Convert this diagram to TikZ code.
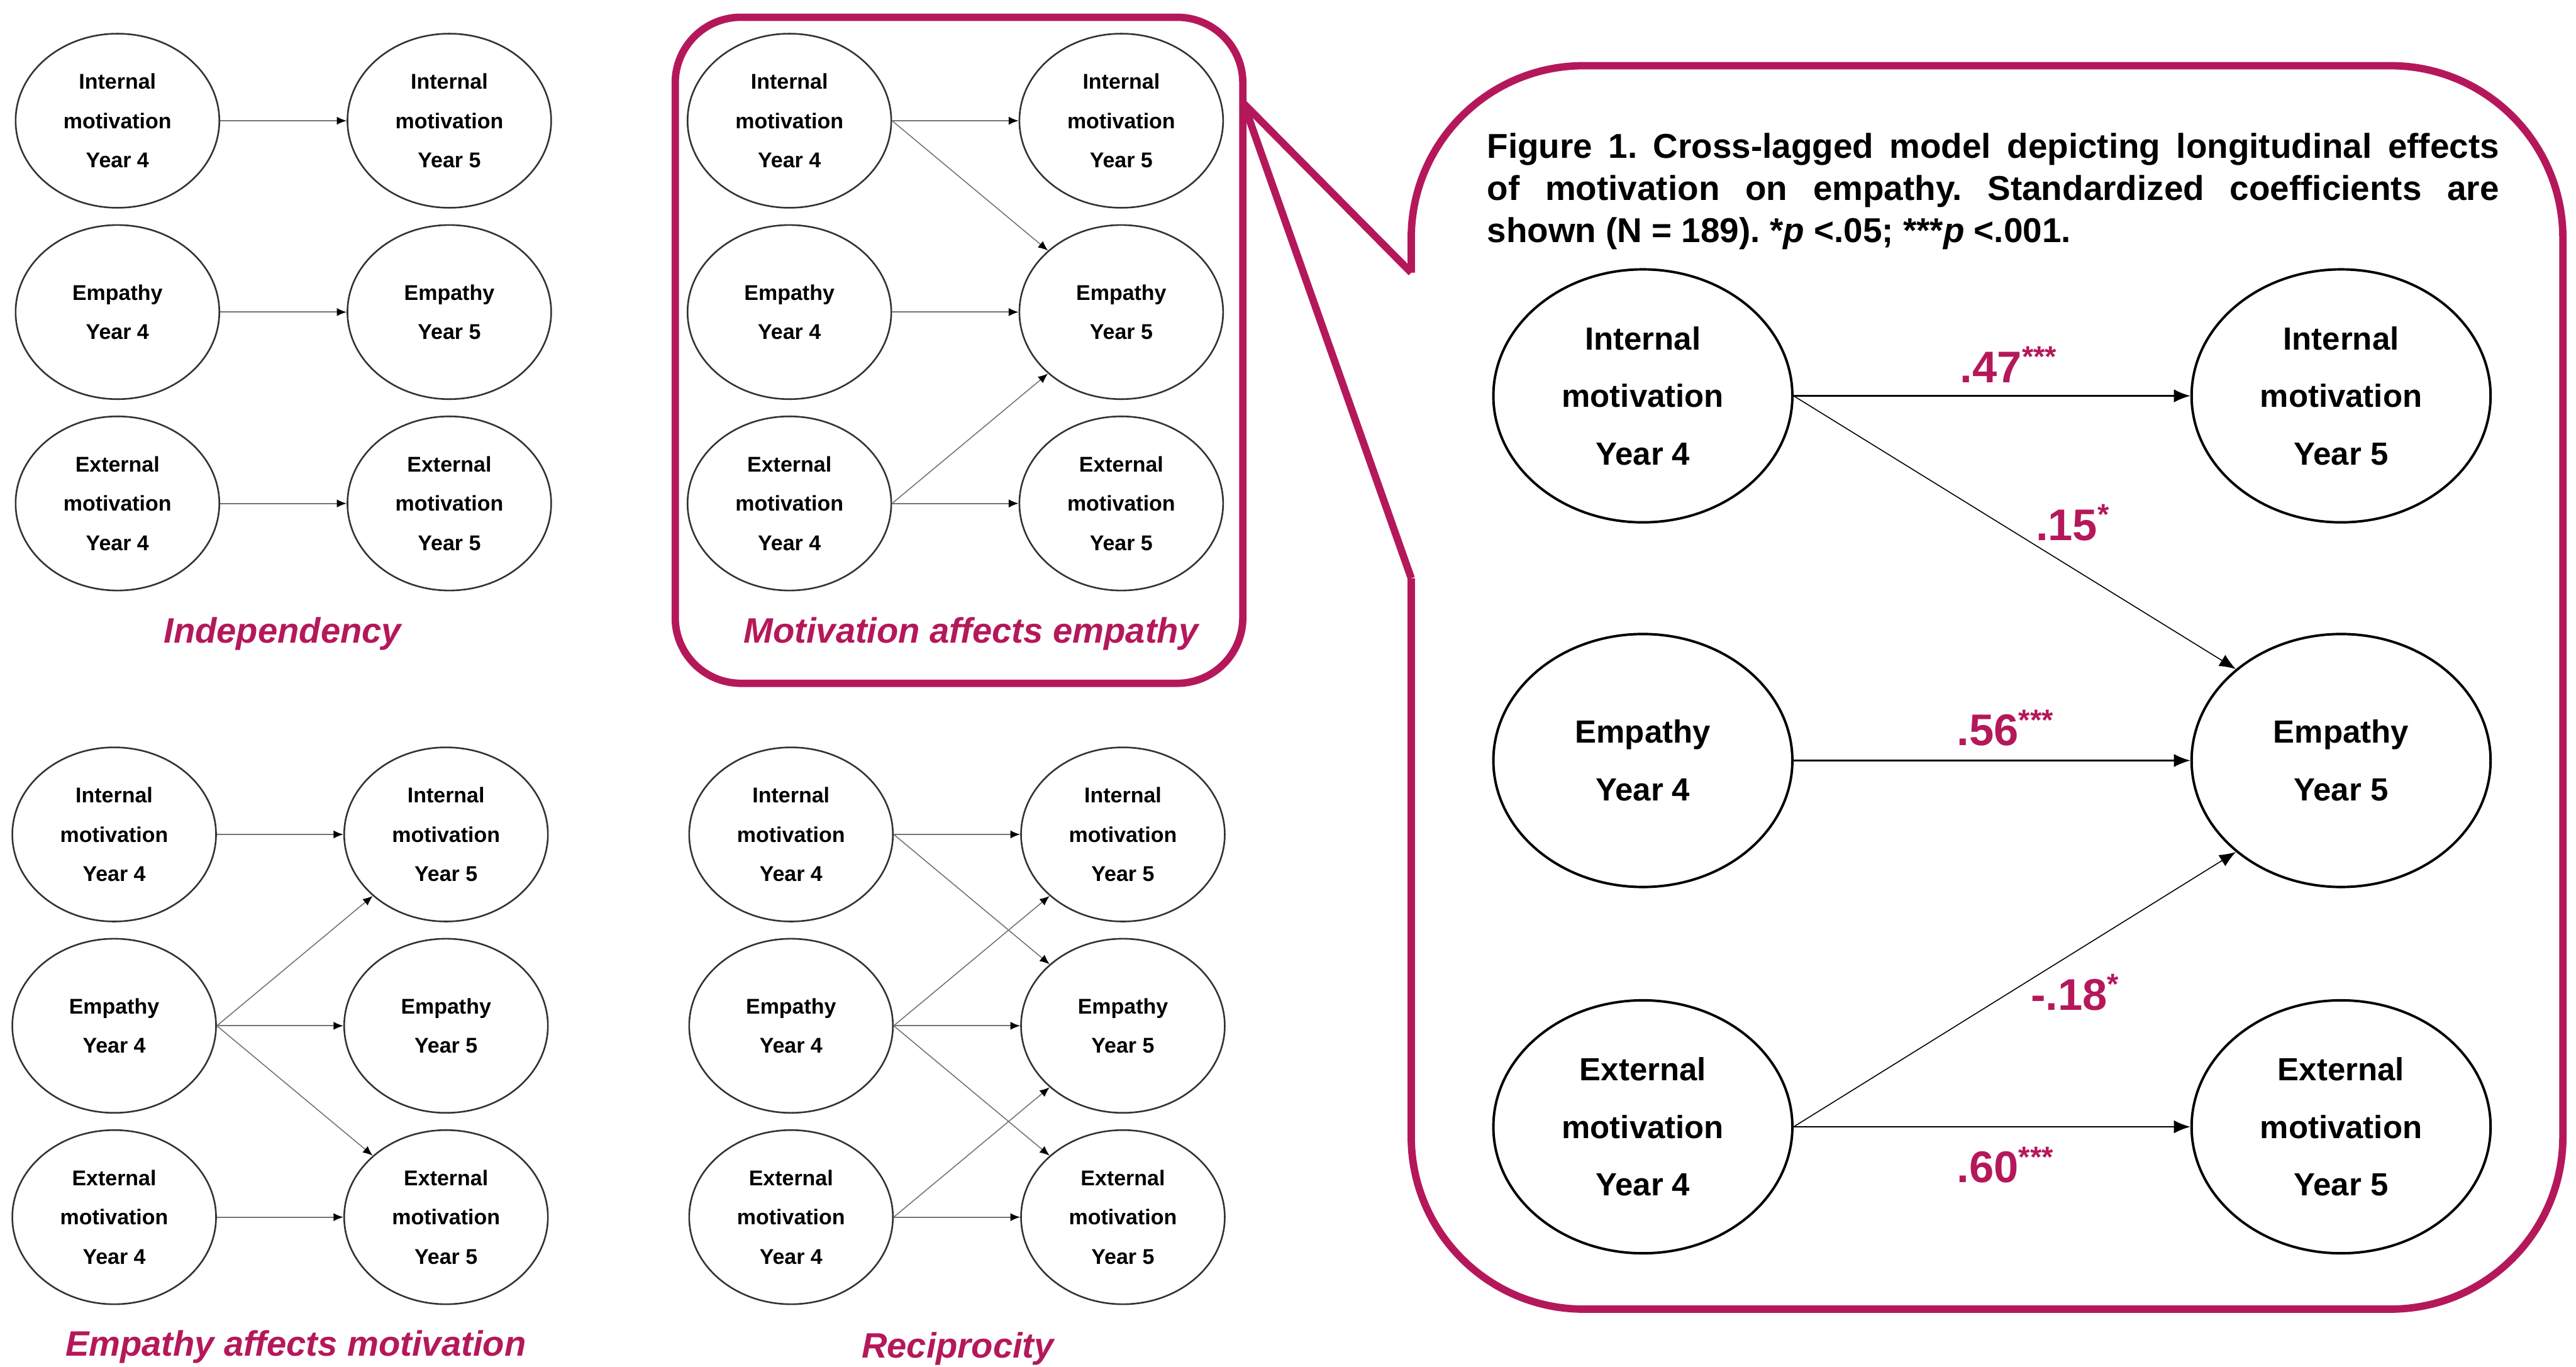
\documentclass[tikz,border=0pt]{standalone}
\usepackage{fontspec}
\setmainfont{Liberation Sans}
\usepackage{tikz}
\usetikzlibrary{shapes.geometric,arrows.meta}
\definecolor{berry}{RGB}{181,24,90}
\tikzstyle{var}=       [ellipse, draw=black!80, line width=1pt, inner sep=0pt, minimum width=124pt, minimum height=106pt, align=center, font=\fontsize{13}{24}\selectfont\bfseries]
\tikzstyle{bigvar}=    [ellipse, draw=black, line width=1.5pt, inner sep=0pt, minimum width=182pt, minimum height=154pt, align=center, font=\fontsize{19.5}{35}\selectfont\bfseries]
\tikzstyle{lag}=       [draw=black!55, line width=0.8pt, -{Latex[length=6pt,width=5pt,color=black]}]
\tikzstyle{crosslag}=  [draw=black!55, line width=0.6pt, -{Latex[length=6pt,width=5pt,color=black]}]
\tikzstyle{biglag}=    [draw=black, line width=0.9pt, -{Latex[length=10pt,width=8pt]}]
\tikzstyle{frame}=     [draw=berry, line width=4.5pt]
\tikzstyle{paneltitle}=[text=berry, inner sep=0pt, font=\fontsize{21.5}{26}\selectfont\bfseries\itshape]
\tikzstyle{figtext}=   [inner sep=0pt, text width=616pt, align=justify, font=\fontsize{21}{25.5}\selectfont\bfseries\frenchspacing]
\tikzstyle{coef}=      [text=berry, inner sep=0pt, anchor=base west, font=\fontsize{27}{30}\selectfont\bfseries]
\newcommand{\stars}[1]{\raisebox{9.5pt}{\fontsize{18}{18}\selectfont #1}}

\begin{document}
\begin{tikzpicture}[x=1pt,y=-1pt]
 \useasboundingbox (0,0) rectangle (1568,832);
 \def\dx{202}
 \def\dy{116.5}

 \foreach \p/\x/\y in {A/71.5/73.5, B/480.5/73.5, C/69.5/508, D/481.5/508}
 {
  \node[var] (\p-int4) at (\x,\y) {Internal\\motivation\\Year 4};
  \node[var] (\p-emp4) at (\x,\y+\dy) {Empathy\\Year 4};
  \node[var] (\p-ext4) at (\x,\y+2*\dy) {External\\motivation\\Year 4};
  \node[var] (\p-int5) at (\x+\dx,\y) {Internal\\motivation\\Year 5};
  \node[var] (\p-emp5) at (\x+\dx,\y+\dy) {Empathy\\Year 5};
  \node[var] (\p-ext5) at (\x+\dx,\y+2*\dy) {External\\motivation\\Year 5};
 }

 \foreach \p in {A,B,C,D}
  \foreach \r in {int,emp,ext}
   \draw[lag] (\p-\r4.east) -- (\p-\r5.west);

 \draw[crosslag] (B-int4.east) -- (B-emp5.140);
 \draw[crosslag] (B-ext4.east) -- (B-emp5.220);
 \draw[crosslag] (C-emp4.east) -- (C-int5.220);
 \draw[crosslag] (C-emp4.east) -- (C-ext5.140);
 \foreach \s/\t in {int4/emp5.140, ext4/emp5.220, emp4/int5.220, emp4/ext5.140}
  \draw[crosslag] (D-\s.east) -- (D-\t);

 \node[paneltitle] (titleA) at (172,386) {Independency};
 \node[paneltitle] (titleB) at (591,386) {Motivation affects empathy};
 \node[paneltitle] (titleC) at (180,820) {Empathy affects motivation};
 \node[paneltitle] (titleD) at (583,821) {Reciprocity};

 \draw[frame, rounded corners=40pt] (411,10.5) rectangle (756.5,416);

 \draw[frame, rounded corners=105pt] (859,166) -- (859,40) -- (1560,40) -- (1560,797) -- (859,797) -- (859,352);
 \draw[frame, line join=round] (859,166) -- (757,63) -- (859,352);

 \node[figtext, anchor=north west] (caption) at (905,81) {Figure 1. Cross-lagged model depicting longitudinal effects\linebreak of motivation on empathy. Standardized coefficients are\linebreak shown (N = 189). *\textit{p} <.05; ***\textit{p} <.001.};

 \node[bigvar] (int4) at (1000,241) {Internal\\motivation\\Year 4};
 \node[bigvar] (emp4) at (1000,463) {Empathy\\Year 4};
 \node[bigvar] (ext4) at (1000,686) {External\\motivation\\Year 4};
 \node[bigvar] (int5) at (1425,241) {Internal\\motivation\\Year 5};
 \node[bigvar] (emp5) at (1425,463) {Empathy\\Year 5};
 \node[bigvar] (ext5) at (1425,686) {External\\motivation\\Year 5};

 \draw[biglag] (int4.east) -- (int5.west);
 \draw[biglag] (emp4.east) -- (emp5.west);
 \draw[biglag] (ext4.east) -- (ext5.west);
 \draw[biglag, line width=0.6pt] (int4.east) -- (emp5.139);
 \draw[biglag, line width=0.6pt] (ext4.east) -- (emp5.221);

 \node[coef] (c47) at (1193,233) {.47\stars{***}};
 \node[coef] (c15) at (1239,329) {.15\stars{*}};
 \node[coef] (c56) at (1191,454) {.56\stars{***}};
 \node[coef] (c18) at (1236,615) {-.18\stars{*}};
 \node[coef] (c60) at (1191,720) {.60\stars{***}};
\end{tikzpicture}
\end{document}
